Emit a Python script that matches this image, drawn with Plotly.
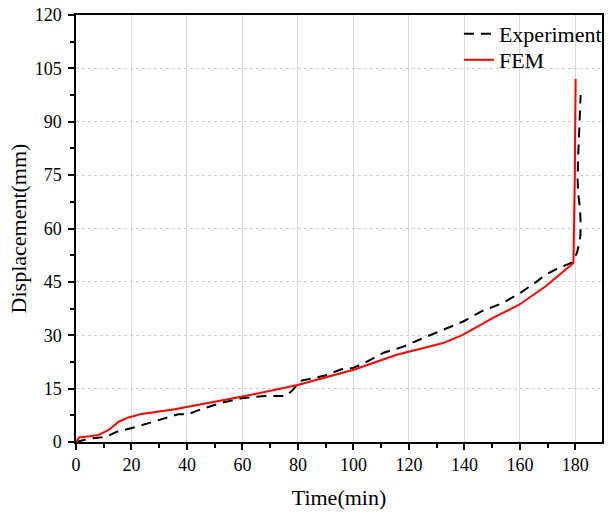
import plotly.graph_objects as go

exp_t = [0, 5, 10.6, 14.8, 21.9, 29.6, 36.8, 40.4, 45, 52, 59.6, 68, 75.7, 78, 81, 89.4, 96.6, 99.5,
         103.7, 110.9, 118, 125.1, 132.3, 139.4, 146.6, 153.7, 160.3, 165.6, 169.2, 172.7, 178.7,
         180.5, 181.3, 181.8, 181.9, 181.6, 181.0, 180.8, 181.0, 181.3, 181.7, 181.9]
exp_d = [0, 1.0, 1.4, 2.9, 4.3, 6.2, 7.8, 7.8, 9.2, 10.9, 12.3, 12.9, 12.9, 14.5, 17.2, 18.6, 20.7, 20.7,
         22.1, 25.1, 26.8, 29.2, 31.5, 33.8, 36.9, 39.0, 42.0, 44.8, 47.0, 48.4, 50.4,
         53, 55.5, 58, 62, 66, 70, 74, 80, 86, 93, 97.5]

fem_t = [0, 1.1, 5, 8.2, 11.8, 15.4, 18.9, 23.7, 35.6, 47.5, 59.6, 79.9, 100.1, 115.6, 132.4, 139.4,
         151.3, 159.6, 165.6, 166.8, 169.2, 179.3, 179.6, 179.8, 180.1]
fem_d = [0, 1.3, 1.6, 2.0, 3.4, 5.7, 6.9, 7.9, 9.2, 10.9, 12.7, 16.0, 20.3, 24.5, 27.8, 30.1,
         35.3, 38.5, 41.8, 42.3, 43.7, 50.3, 60, 75, 102]

x_ticks = [0, 20, 40, 60, 80, 100, 120, 140, 160, 180]
y_ticks = [0, 15, 30, 45, 60, 75, 90, 105, 120]

font = "Liberation Serif, Times New Roman, serif"

fig = go.Figure()
fig.add_trace(go.Scatter(x=exp_t, y=exp_d, mode="lines", name="Experiment", legend="legend",
                         line=dict(color="black", width=2, dash="10px,7px")))
fig.add_trace(go.Scatter(x=fem_t, y=fem_d, mode="lines", name="FEM", legend="legend2",
                         line=dict(color="#ff0000", width=2)))

leg_common = dict(xanchor="left", yanchor="middle", bgcolor="rgba(0,0,0,0)",
                  font=dict(size=22, family=font), tracegroupgap=0)

fig.update_layout(
    width=608, height=514,
    margin=dict(l=76, r=1, t=15, b=72),
    paper_bgcolor="white", plot_bgcolor="white",
    font=dict(family=font, size=18, color="black"),
    showlegend=True,
    legend=dict(x=0.728, y=0.9555, **leg_common),
    legend2=dict(x=0.728, y=0.8946, **leg_common),
    xaxis=dict(range=[0, 189.6], tickvals=x_ticks, ticktext=[str(v) for v in x_ticks],
               automargin=False,
               showline=True, linecolor="black", linewidth=1.5, mirror=True,
               ticks="outside", ticklen=6, tickwidth=1.5, tickcolor="black",
               showgrid=True, gridcolor="#d9d9d9", gridwidth=1,
               minor=dict(tickvals=[10, 30, 50, 70, 90, 110, 130, 150, 170], ticks="outside",
                          ticklen=4, tickwidth=1.5, tickcolor="black", showgrid=False),
               zeroline=False,
               title=dict(text="Time(min)", font=dict(size=22, family=font), standoff=15),
               tickfont=dict(size=18, family=font)),
    yaxis=dict(range=[0, 120], tickvals=y_ticks, ticktext=[str(v) for v in y_ticks],
               automargin=False,
               showline=True, linecolor="black", linewidth=1.5, mirror=True,
               ticks="outside", ticklen=6, tickwidth=1.5, tickcolor="black",
               ticklabelstandoff=3,
               showgrid=True, gridcolor="#cccccc", gridwidth=1, griddash="3px,3px",
               minor=dict(tickvals=[7.5, 22.5, 37.5, 52.5, 67.5, 82.5, 97.5, 112.5], ticks="outside",
                          ticklen=4, tickwidth=1.5, tickcolor="black", showgrid=False),
               zeroline=False,
               title=dict(text="Displacement(mm)", font=dict(size=22, family=font), standoff=2),
               tickfont=dict(size=18, family=font)),
)

fig.write_html("out.html", config={"displayModeBar": False},
               post_script="document.body.style.margin='0';")
